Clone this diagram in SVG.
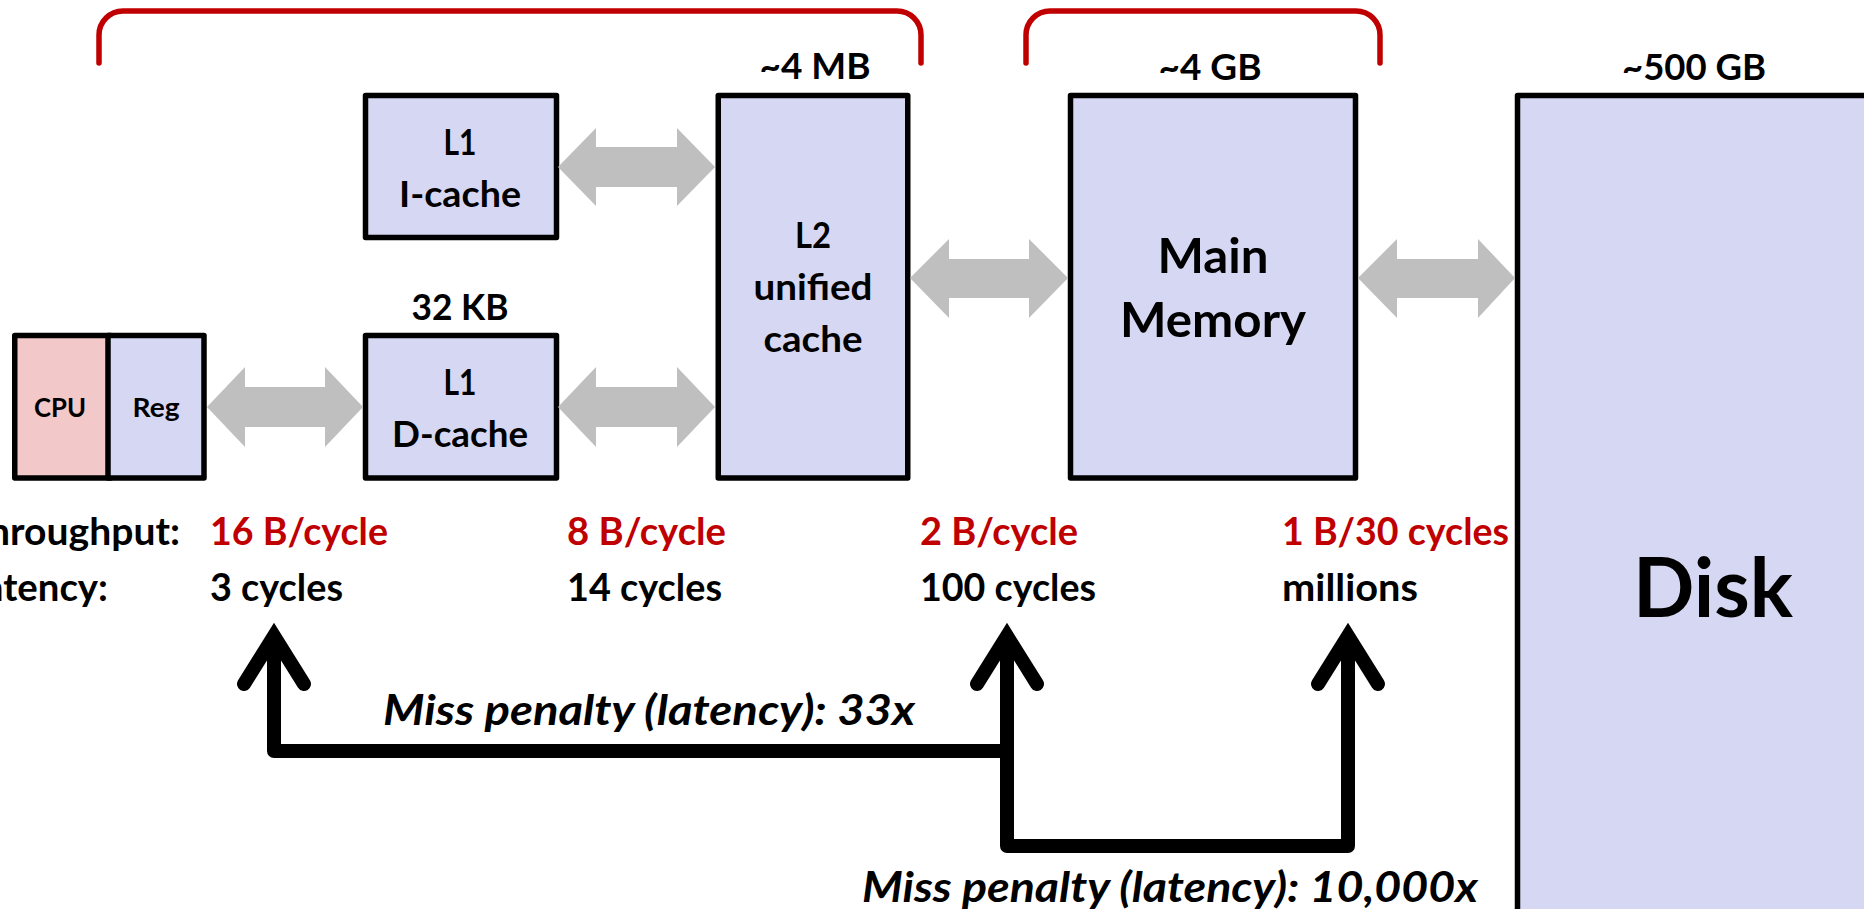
<svg xmlns="http://www.w3.org/2000/svg" xmlns:xlink="http://www.w3.org/1999/xlink" width="1864" height="909" viewBox="0 0 1864 909">
<style>
  .box { fill: #D6D7F3; stroke: #000; stroke-width: 5.5; stroke-linejoin: round; }
  .cpu { fill: #F2C8C8; stroke: #000; stroke-width: 5.5; stroke-linejoin: round; }
  .t { font-family: Lato, "Liberation Sans", sans-serif; font-weight: bold; fill: #000; }
  .c { text-anchor: middle; }
  .lbl { font-size: 37px; }
  .big { font-size: 47px; }
  .disk { font-size: 83px; }
  .sm { font-size: 27px; }
  .row { font-size: 38px; }
  .red { fill: #C00000; }
  .miss { font-size: 42px; font-style: italic; }
  .brace { fill: none; stroke: #C00000; stroke-width: 5.5; stroke-linecap: round; }
  .bus { fill: #BFBFBF; stroke: none; }
  .line { fill: none; stroke: #000; stroke-width: 14; stroke-linejoin: round; }
  .head { fill: none; stroke: #000; stroke-width: 14; stroke-linecap: round; stroke-linejoin: miter; }
</style>
<defs>
  <path id="ah" d="M -30 48 L 0 0 L 30 48"/>
</defs>
<rect x="0" y="0" width="1864" height="909" fill="#fff"/>

<g id="braces">
  <path class="brace" d="M 99 63 V 35 A 24 24 0 0 1 123 11 H 897 A 24 24 0 0 1 921 35 V 63"/>
  <path class="brace" d="M 1026 63 V 35 A 24 24 0 0 1 1050 11 H 1356 A 24 24 0 0 1 1380 35 V 63"/>
</g>

<g id="cpu-reg">
  <rect class="cpu" x="14.75" y="335.5" width="96" height="142.5"/>
  <rect class="box" x="108" y="335.5" width="96" height="142.5"/>
  <text class="t c sm" x="60" y="417" textLength="52" lengthAdjust="spacingAndGlyphs">CPU</text>
  <text class="t c sm" x="156" y="417" textLength="47" lengthAdjust="spacingAndGlyphs">Reg</text>
</g>

<g id="l1-icache">
  <rect class="box" x="365.5" y="95.5" width="191" height="142"/>
  <text class="t c lbl" x="460" y="155" textLength="33" lengthAdjust="spacingAndGlyphs">L1</text>
  <text class="t c lbl" x="460" y="207" textLength="122" lengthAdjust="spacingAndGlyphs">I-cache</text>
</g>

<g id="l1-dcache">
  <text class="t c lbl" x="460" y="320" textLength="97" lengthAdjust="spacingAndGlyphs">32 KB</text>
  <rect class="box" x="365.5" y="335.5" width="191" height="142.5"/>
  <text class="t c lbl" x="460" y="395" textLength="33" lengthAdjust="spacingAndGlyphs">L1</text>
  <text class="t c lbl" x="460" y="447" textLength="136" lengthAdjust="spacingAndGlyphs">D-cache</text>
</g>

<g id="l2">
  <text class="t c lbl" x="815" y="79" textLength="111" lengthAdjust="spacingAndGlyphs">~4 MB</text>
  <rect class="box" x="718.25" y="95.5" width="189.5" height="382.5"/>
  <text class="t c lbl" x="813" y="248" textLength="36" lengthAdjust="spacingAndGlyphs">L2</text>
  <text class="t c lbl" x="813" y="300" textLength="119" lengthAdjust="spacingAndGlyphs">unified</text>
  <text class="t c lbl" x="813" y="352" textLength="99" lengthAdjust="spacingAndGlyphs">cache</text>
</g>

<g id="main-memory">
  <text class="t c lbl" x="1210" y="80" textLength="103" lengthAdjust="spacingAndGlyphs">~4 GB</text>
  <rect class="box" x="1070.5" y="95.5" width="285" height="382.5"/>
  <text class="t c big" x="1213" y="273" textLength="111" lengthAdjust="spacingAndGlyphs">Main</text>
  <text class="t c big" x="1213" y="337" textLength="186" lengthAdjust="spacingAndGlyphs">Memory</text>
</g>

<g id="disk">
  <text class="t c lbl" x="1694" y="80" textLength="144" lengthAdjust="spacingAndGlyphs">~500 GB</text>
  <rect class="box" x="1517.5" y="95.5" width="420" height="900"/>
  <text class="t c disk" x="1713" y="617" textLength="160" lengthAdjust="spacingAndGlyphs">Disk</text>
</g>

<g id="metrics">
  <text class="t row" x="180" y="545" text-anchor="end" textLength="215" lengthAdjust="spacingAndGlyphs">Throughput:</text>
  <text class="t row" x="108" y="601" text-anchor="end" textLength="144" lengthAdjust="spacingAndGlyphs">Latency:</text>
  <text class="t row red" x="210" y="545" textLength="178" lengthAdjust="spacingAndGlyphs">16 B/cycle</text>
  <text class="t row" x="210" y="601" textLength="133" lengthAdjust="spacingAndGlyphs">3 cycles</text>
  <text class="t row red" x="567" y="545" textLength="159" lengthAdjust="spacingAndGlyphs">8 B/cycle</text>
  <text class="t row" x="567" y="601" textLength="155" lengthAdjust="spacingAndGlyphs">14 cycles</text>
  <text class="t row red" x="920" y="545" textLength="158" lengthAdjust="spacingAndGlyphs">2 B/cycle</text>
  <text class="t row" x="920" y="601" textLength="176" lengthAdjust="spacingAndGlyphs">100 cycles</text>
  <text class="t row red" x="1282" y="545" textLength="227" lengthAdjust="spacingAndGlyphs">1 B/30 cycles</text>
  <text class="t row" x="1282" y="601" textLength="136" lengthAdjust="spacingAndGlyphs">millions</text>
</g>

<g id="connectors">
  <polygon class="bus" points="207,407 245,367 245,387 325,387 325,367 363,407 325,447 325,427 245,427 245,447"/>
  <polygon class="bus" points="558,167 596,128 596,147 677,147 677,128 715,167 677,206 677,187 596,187 596,206"/>
  <polygon class="bus" points="558,407 596,367 596,387 677,387 677,367 715,407 677,447 677,427 596,427 596,447"/>
  <polygon class="bus" points="910,278 949,239 949,259 1029,259 1029,239 1068,278 1029,318 1029,298 949,298 949,318"/>
  <polygon class="bus" points="1358,278 1397,239 1397,259 1478,259 1478,239 1515,278 1478,318 1478,298 1397,298 1397,318"/>

  <path class="line" d="M 274 640 V 751 H 1007"/>
  <path class="line" d="M 1007 640 V 846 H 1348 V 640"/>
  <use href="#ah" xlink:href="#ah" class="head" x="274" y="636"/>
  <use href="#ah" xlink:href="#ah" class="head" x="1007" y="636"/>
  <use href="#ah" xlink:href="#ah" class="head" x="1348" y="636"/>

  <text class="t miss" x="383" y="725" textLength="532" lengthAdjust="spacingAndGlyphs">Miss penalty (latency): 33x</text>
  <text class="t miss" x="1478" y="902" text-anchor="end" textLength="616" lengthAdjust="spacingAndGlyphs">Miss penalty (latency): 10,000x</text>
</g>
</svg>
